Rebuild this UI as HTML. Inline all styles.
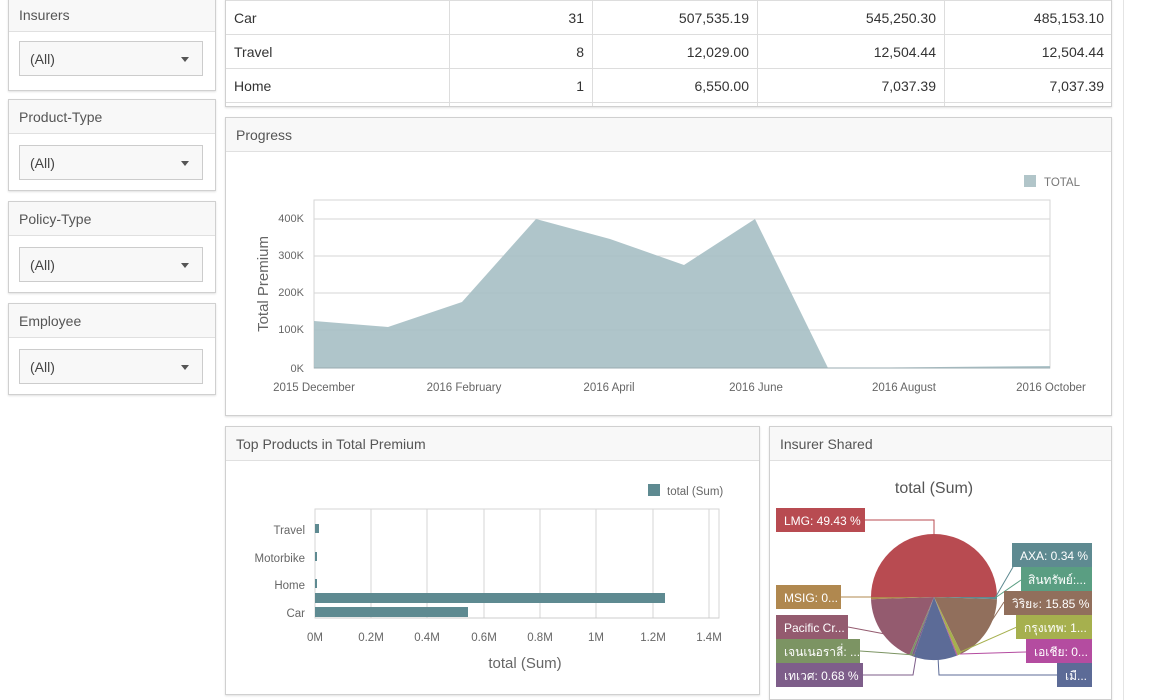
<!DOCTYPE html>
<html><head><meta charset="utf-8"><style>
body{margin:0;width:1153px;height:700px;background:#fff;position:relative;overflow:hidden;font-family:"Liberation Sans","Noto Sans CJK SC",sans-serif;color:#333}
.p{position:absolute;border:1px solid #d0d0d0;background:#fff;box-shadow:0 1px 2px rgba(0,0,0,.12)}
.h{position:absolute;left:0;right:0;top:0;height:34px;background:#f8f8f8;border-bottom:1px solid #e0e0e0;font-size:14px;color:#555;line-height:34px;padding-left:10px;box-sizing:border-box}
.sel{position:absolute;left:10px;top:43px;width:184px;height:35px;border:1px solid #ccc;background:#f8f8f8;font-size:14px;line-height:35px;padding-left:10px;box-sizing:border-box;color:#444}
.sel:after{content:"";position:absolute;right:13px;top:15px;border:4px solid transparent;border-top:5px solid #555}
table{border-collapse:collapse;font-size:14px;table-layout:fixed}
td{border:1px solid #ddd;height:34px;padding:0 8px;box-sizing:border-box}
td.n{text-align:right}
</style></head><body>
<div class="p" style="left:8px;top:-3px;width:206px;height:92px"><div class="h">Insurers</div><div class="sel">(All)</div></div>
<div class="p" style="left:8px;top:99px;width:206px;height:90px"><div class="h">Product-Type</div><div class="sel" style="top:45px">(All)</div></div>
<div class="p" style="left:8px;top:201px;width:206px;height:90px"><div class="h">Policy-Type</div><div class="sel" style="top:45px">(All)</div></div>
<div class="p" style="left:8px;top:303px;width:206px;height:90px"><div class="h">Employee</div><div class="sel" style="top:45px">(All)</div></div>
<div style="position:absolute;left:1123px;top:0;width:1px;height:700px;background:#e4e4e4"></div>
<div class="p" style="left:225px;top:-1px;width:885px;height:106px;overflow:hidden">
<table style="position:absolute;left:-1px;top:0;width:887px">
<colgroup><col style="width:224px"><col style="width:143px"><col style="width:165px"><col style="width:187px"><col style="width:168px"></colgroup>
<tr><td>Car</td><td class="n">31</td><td class="n">507,535.19</td><td class="n">545,250.30</td><td class="n">485,153.10</td></tr>
<tr><td>Travel</td><td class="n">8</td><td class="n">12,029.00</td><td class="n">12,504.44</td><td class="n">12,504.44</td></tr>
<tr><td>Home</td><td class="n">1</td><td class="n">6,550.00</td><td class="n">7,037.39</td><td class="n">7,037.39</td></tr>
<tr><td></td><td></td><td></td><td></td><td></td></tr>
</table></div>
<div class="p" style="left:225px;top:117px;width:885px;height:297px"><div class="h">Progress</div></div>
<div class="p" style="left:225px;top:426px;width:533px;height:267px"><div class="h">Top Products in Total Premium</div></div>
<div class="p" style="left:769px;top:426px;width:341px;height:272px"><div class="h">Insurer Shared</div></div>
<svg style="position:absolute;left:0;top:0" width="1153" height="700" font-family="Liberation Sans, Noto Sans CJK SC, sans-serif">
<g stroke="#d6d6d6" fill="none"><rect x="314" y="200" width="736" height="168"/>
<line x1="314" y1="219" x2="1050" y2="219"/><line x1="314" y1="256" x2="1050" y2="256"/><line x1="314" y1="293" x2="1050" y2="293"/><line x1="314" y1="330" x2="1050" y2="330"/></g>
<polygon points="314,321 388,327 462,302 536,219 610,239 684,265 755,219 828,368 1050,366 1050,368 314,368" fill="#a6bfc4" opacity=".9"/>
<line x1="314" y1="368" x2="1050" y2="368" stroke="#9aabb0"/>
<g font-size="11" fill="#666" text-anchor="end"><text x="304" y="222">400K</text><text x="304" y="259">300K</text><text x="304" y="296">200K</text><text x="304" y="333">100K</text><text x="304" y="372">0K</text></g>
<g font-size="11.5" fill="#666" text-anchor="middle"><text x="314" y="391">2015 December</text><text x="464" y="391">2016 February</text><text x="609" y="391">2016 April</text><text x="756" y="391">2016 June</text><text x="904" y="391">2016 August</text><text x="1051" y="391">2016 October</text></g>
<text transform="translate(268,284) rotate(-90)" font-size="15" fill="#666" text-anchor="middle">Total Premium</text>
<rect x="1024" y="175" width="12" height="12" fill="#b1c5c9"/><text x="1044" y="186" font-size="11.5" fill="#777">TOTAL</text>
<g stroke="#d6d6d6" fill="none"><rect x="315" y="509" width="404" height="109"/>
<line x1="371" y1="509" x2="371" y2="618"/><line x1="427" y1="509" x2="427" y2="618"/><line x1="484" y1="509" x2="484" y2="618"/><line x1="540" y1="509" x2="540" y2="618"/><line x1="596" y1="509" x2="596" y2="618"/><line x1="653" y1="509" x2="653" y2="618"/><line x1="709" y1="509" x2="709" y2="618"/></g>
<g fill="#5e8a91"><rect x="315" y="524" width="4" height="9"/><rect x="315" y="552" width="2" height="9"/><rect x="315" y="579" width="2" height="9"/><rect x="315" y="593" width="350" height="10"/><rect x="315" y="607" width="153" height="10"/></g>
<line x1="315" y1="618" x2="719" y2="618" stroke="#ccc"/>
<g font-size="11.5" fill="#666" text-anchor="end"><text x="305" y="534">Travel</text><text x="305" y="562">Motorbike</text><text x="305" y="589">Home</text><text x="305" y="617">Car</text></g>
<g font-size="11.5" fill="#666" text-anchor="middle"><text x="315" y="641">0M</text><text x="371" y="641">0.2M</text><text x="427" y="641">0.4M</text><text x="484" y="641">0.6M</text><text x="540" y="641">0.8M</text><text x="596" y="641">1M</text><text x="653" y="641">1.2M</text><text x="709" y="641">1.4M</text></g>
<text x="525" y="668" font-size="15" fill="#666" text-anchor="middle">total (Sum)</text>
<rect x="648" y="484" width="12" height="12" fill="#5e8a91"/><text x="667" y="495" font-size="11.5" fill="#666">total (Sum)</text>
<text x="934" y="493" font-size="16" fill="#555" text-anchor="middle">total (Sum)</text>
<path d="M934,597 L871,597 A63,63 0 0 1 997,597 Z" fill="#b84b51"/>
<path d="M934,597 L997,597 A63,63 0 0 1 997,599.2 Z" fill="#5e8a91"/>
<path d="M934,597 L997,599.2 A63,63 0 0 1 961.6,653.6 Z" fill="#916f5c"/>
<path d="M934,597 L961.6,653.6 A63,63 0 0 1 957.6,655.4 Z" fill="#a6b04e"/>
<path d="M934,597 L957.6,655.4 A63,63 0 0 1 956.6,655.8 Z" fill="#b44ca0"/>
<path d="M934,597 L956.6,655.8 A63,63 0 0 1 913.5,656.6 Z" fill="#5c6b97"/>
<path d="M934,597 L913.5,656.6 A63,63 0 0 1 911.4,655.8 Z" fill="#7e5e8a"/>
<path d="M934,597 L911.4,655.8 A63,63 0 0 1 909.4,655 Z" fill="#7c9463"/>
<path d="M934,597 L909.4,655 A63,63 0 0 1 871,599.2 Z" fill="#945b6f"/>
<path d="M934,597 L871,599.2 A63,63 0 0 1 871,597 Z" fill="#b0884f"/>
<g fill="none" stroke-width="1">
<polyline points="864,520 934,520 934,535" stroke="#b84b51"/>
<polyline points="1013,567 995,598" stroke="#5e8a91"/><polyline points="1021,580 995,598" stroke="#5a9e82"/>
<polyline points="1004,602 987,628" stroke="#916f5c"/><polyline points="1017,627 958,653" stroke="#a6b04e"/>
<polyline points="1026,652 960,654" stroke="#b44ca0"/><polyline points="1057,675 939,675 938,657" stroke="#5c6b97"/>
<polyline points="840,597 871,597" stroke="#b0884f"/><polyline points="848,627 885,634" stroke="#945b6f"/>
<polyline points="860,651 915,655" stroke="#7c9463"/><polyline points="862,675 913,675 916,657" stroke="#7e5e8a"/>
</g>
<g font-size="12" fill="#fff">
<rect x="776" y="508" width="89" height="24" fill="#b84b51"/><text x="784" y="525">LMG: 49.43 %</text>
<rect x="1012" y="543" width="80" height="24" fill="#5e8a91"/><text x="1020" y="560">AXA: 0.34 %</text>
<rect x="1021" y="567" width="71" height="24" fill="#5a9e82"/><text x="1028" y="584">สินทรัพย์:...</text>
<rect x="1004" y="591" width="88" height="24" fill="#916f5c"/><text x="1012" y="608">วิริยะ: 15.85 %</text>
<rect x="1016" y="615" width="76" height="24" fill="#a6b04e"/><text x="1024" y="632">กรุงเทพ: 1...</text>
<rect x="1026" y="639" width="66" height="24" fill="#b44ca0"/><text x="1034" y="656">เอเชีย: 0...</text>
<rect x="1057" y="663" width="35" height="24" fill="#5c6b97"/><text x="1065" y="680">เมื...</text>
<rect x="776" y="585" width="65" height="24" fill="#b0884f"/><text x="784" y="602">MSIG: 0...</text>
<rect x="776" y="615" width="72" height="24" fill="#945b6f"/><text x="784" y="632">Pacific Cr...</text>
<rect x="776" y="639" width="84" height="24" fill="#7c9463"/><text x="784" y="656">เจนเนอราลี่: ...</text>
<rect x="776" y="663" width="87" height="24" fill="#7e5e8a"/><text x="784" y="680">เทเวศ: 0.68 %</text>
</g>
</svg>
</body></html>
